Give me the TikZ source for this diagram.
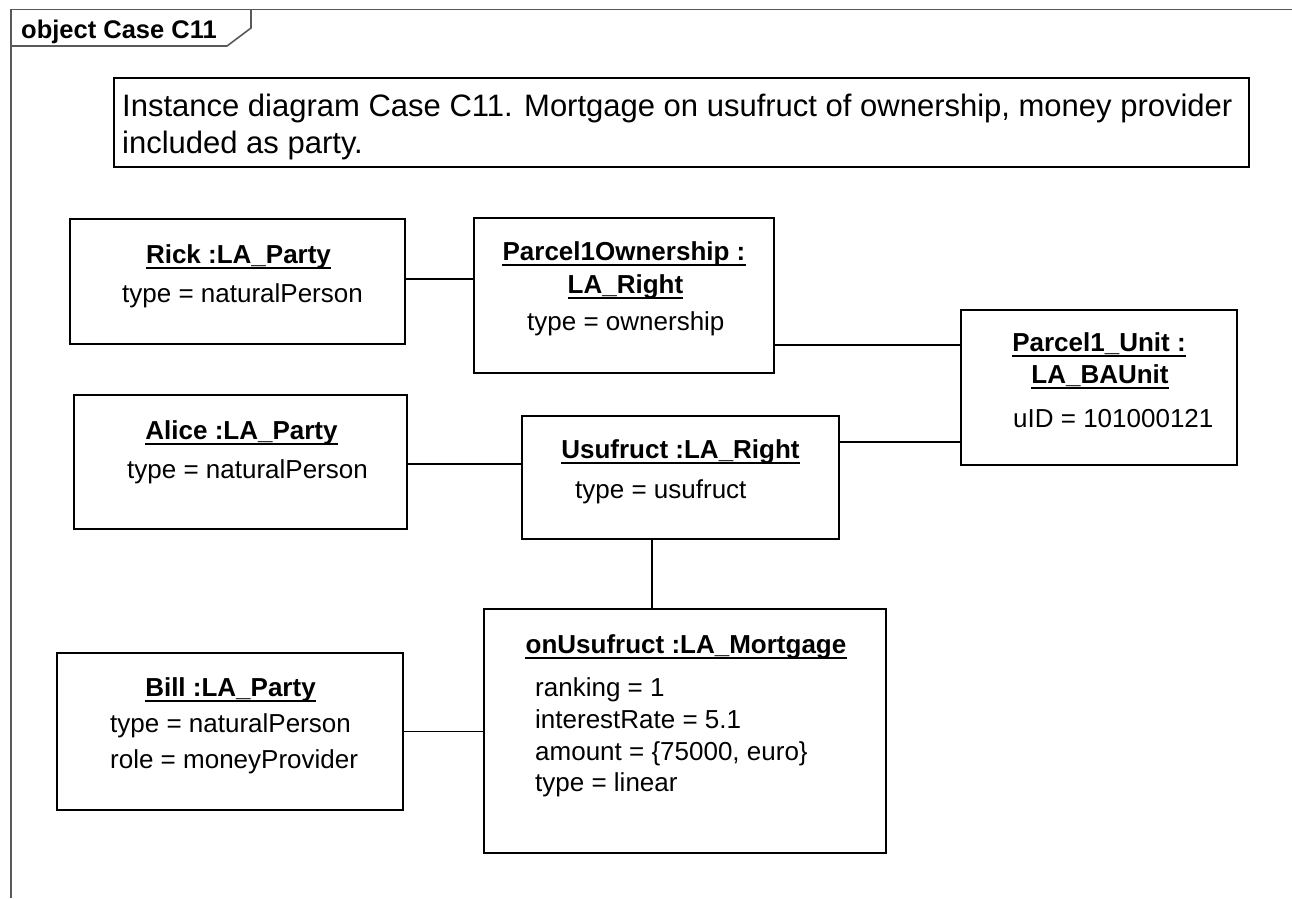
\documentclass[tikz,border=0pt]{standalone}
\usepackage{fontspec}
\setmainfont{Liberation Sans}
\begin{document}
\begin{tikzpicture}[x=1pt,y=-1pt,
 obj/.style={draw=black, line width=1.6pt, inner sep=0pt, outer sep=0pt, anchor=north west},
 ttl/.style={font=\fontsize{26}{30}\selectfont\bfseries, inner sep=0pt, anchor=base},
 attr/.style={font=\fontsize{26}{30}\selectfont, inner sep=0pt, anchor=base west},
 notetxt/.style={font=\fontsize{31}{36}\selectfont, inner sep=0pt, anchor=base west},
 tabtxt/.style={font=\fontsize{25.5}{30}\selectfont\bfseries, inner sep=0pt, anchor=base west},
 uline/.style={line width=1.7pt},
 conn/.style={line width=1.6pt},
 framel/.style={draw=black!65, line width=1.6pt}]
\useasboundingbox (0,0) rectangle (1292,898);
% frame
\draw[framel] (11,898) -- (11,9.5) -- (1292,9.5);
\draw[framel] (11,46) -- (227,46) -- (251,28) -- (251,9.5);
\node[tabtxt] (tab) at (21,38) {object Case C11};
% note
\node[obj, minimum width=1135, minimum height=89] (note) at (114,78) {};
\node[notetxt] (note1) at (122,116) {Instance diagram Case C11. Mortgage on usufruct of ownership, money provider};
\node[notetxt] (note2) at (122,153) {included as party.};
% boxes
\node[obj, minimum width=335, minimum height=125] (rick) at (70,219) {};
\node[obj, minimum width=300, minimum height=155] (p1o) at (474,218) {};
\node[obj, minimum width=276, minimum height=155] (p1u) at (961,310) {};
\node[obj, minimum width=333, minimum height=134] (alice) at (74,395) {};
\node[obj, minimum width=317, minimum height=123] (usu) at (522,416) {};
\node[obj, minimum width=402, minimum height=244] (mort) at (484,609) {};
\node[obj, minimum width=346, minimum height=157] (bill) at (57,653) {};
% texts
\node[ttl] (rickt) at (238.5,263) {Rick :LA\_Party};
\node[attr] (ricka) at (122,302) {type = naturalPerson};
\node[ttl] (p1ot1) at (624,260) {Parcel1Ownership :};
\node[ttl] (p1ot2) at (625.5,293) {LA\_Right};
\node[attr] (p1oa) at (527,330) {type = ownership};
\node[ttl] (p1ut1) at (1099,351) {Parcel1\_Unit :};
\node[ttl] (p1ut2) at (1100,383) {LA\_BAUnit};
\node[attr] (p1ua) at (1013,427) {uID = 101000121};
\node[ttl] (alicet) at (241.5,439) {Alice :LA\_Party};
\node[attr] (alicea) at (127,478) {type = naturalPerson};
\node[ttl] (usut) at (680.5,458) {Usufruct :LA\_Right};
\node[attr] (usua) at (575,498) {type = usufruct};
\node[ttl] (mortt) at (686,653) {onUsufruct :LA\_Mortgage};
\node[attr] (morta1) at (535,696) {ranking = 1};
\node[attr] (morta2) at (535,728) {interestRate = 5.1};
\node[attr] (morta3) at (535,760) {amount = \{75000, euro\}};
\node[attr] (morta4) at (535,791) {type = linear};
\node[ttl] (billt) at (230.5,696) {Bill :LA\_Party};
\node[attr] (billa1) at (110,732) {type = naturalPerson};
\node[attr] (billa2) at (110,768) {role = moneyProvider};
\foreach \n in {rickt,p1ot1,p1ot2,p1ut1,p1ut2,alicet,usut,mortt,billt}
  \draw[uline] ([yshift=-5pt]\n.base west) -- ([yshift=-5pt]\n.base east);
% connectors
\coordinate (c1) at ([yshift=2.5pt]rick.east);
\draw[conn] (c1) -- (c1 -| p1o.west);
\coordinate (c2) at ([yshift=42.5pt]p1u.west);
\draw[conn] (c2 -| p1o.east) -- (c2);
\coordinate (c3) at ([yshift=-2pt]alice.east);
\draw[conn] (c3) -- (c3 -| usu.west);
\coordinate (c4) at ([yshift=35.5pt]usu.east);
\draw[conn] (c4) -- (c4 -| p1u.west);
\coordinate (c5) at ([xshift=-28.5pt]usu.south);
\draw[conn] (c5) -- (c5 |- mort.north);
\draw[conn] (bill.east) -- (bill.east -| mort.west);
\end{tikzpicture}
\end{document}
